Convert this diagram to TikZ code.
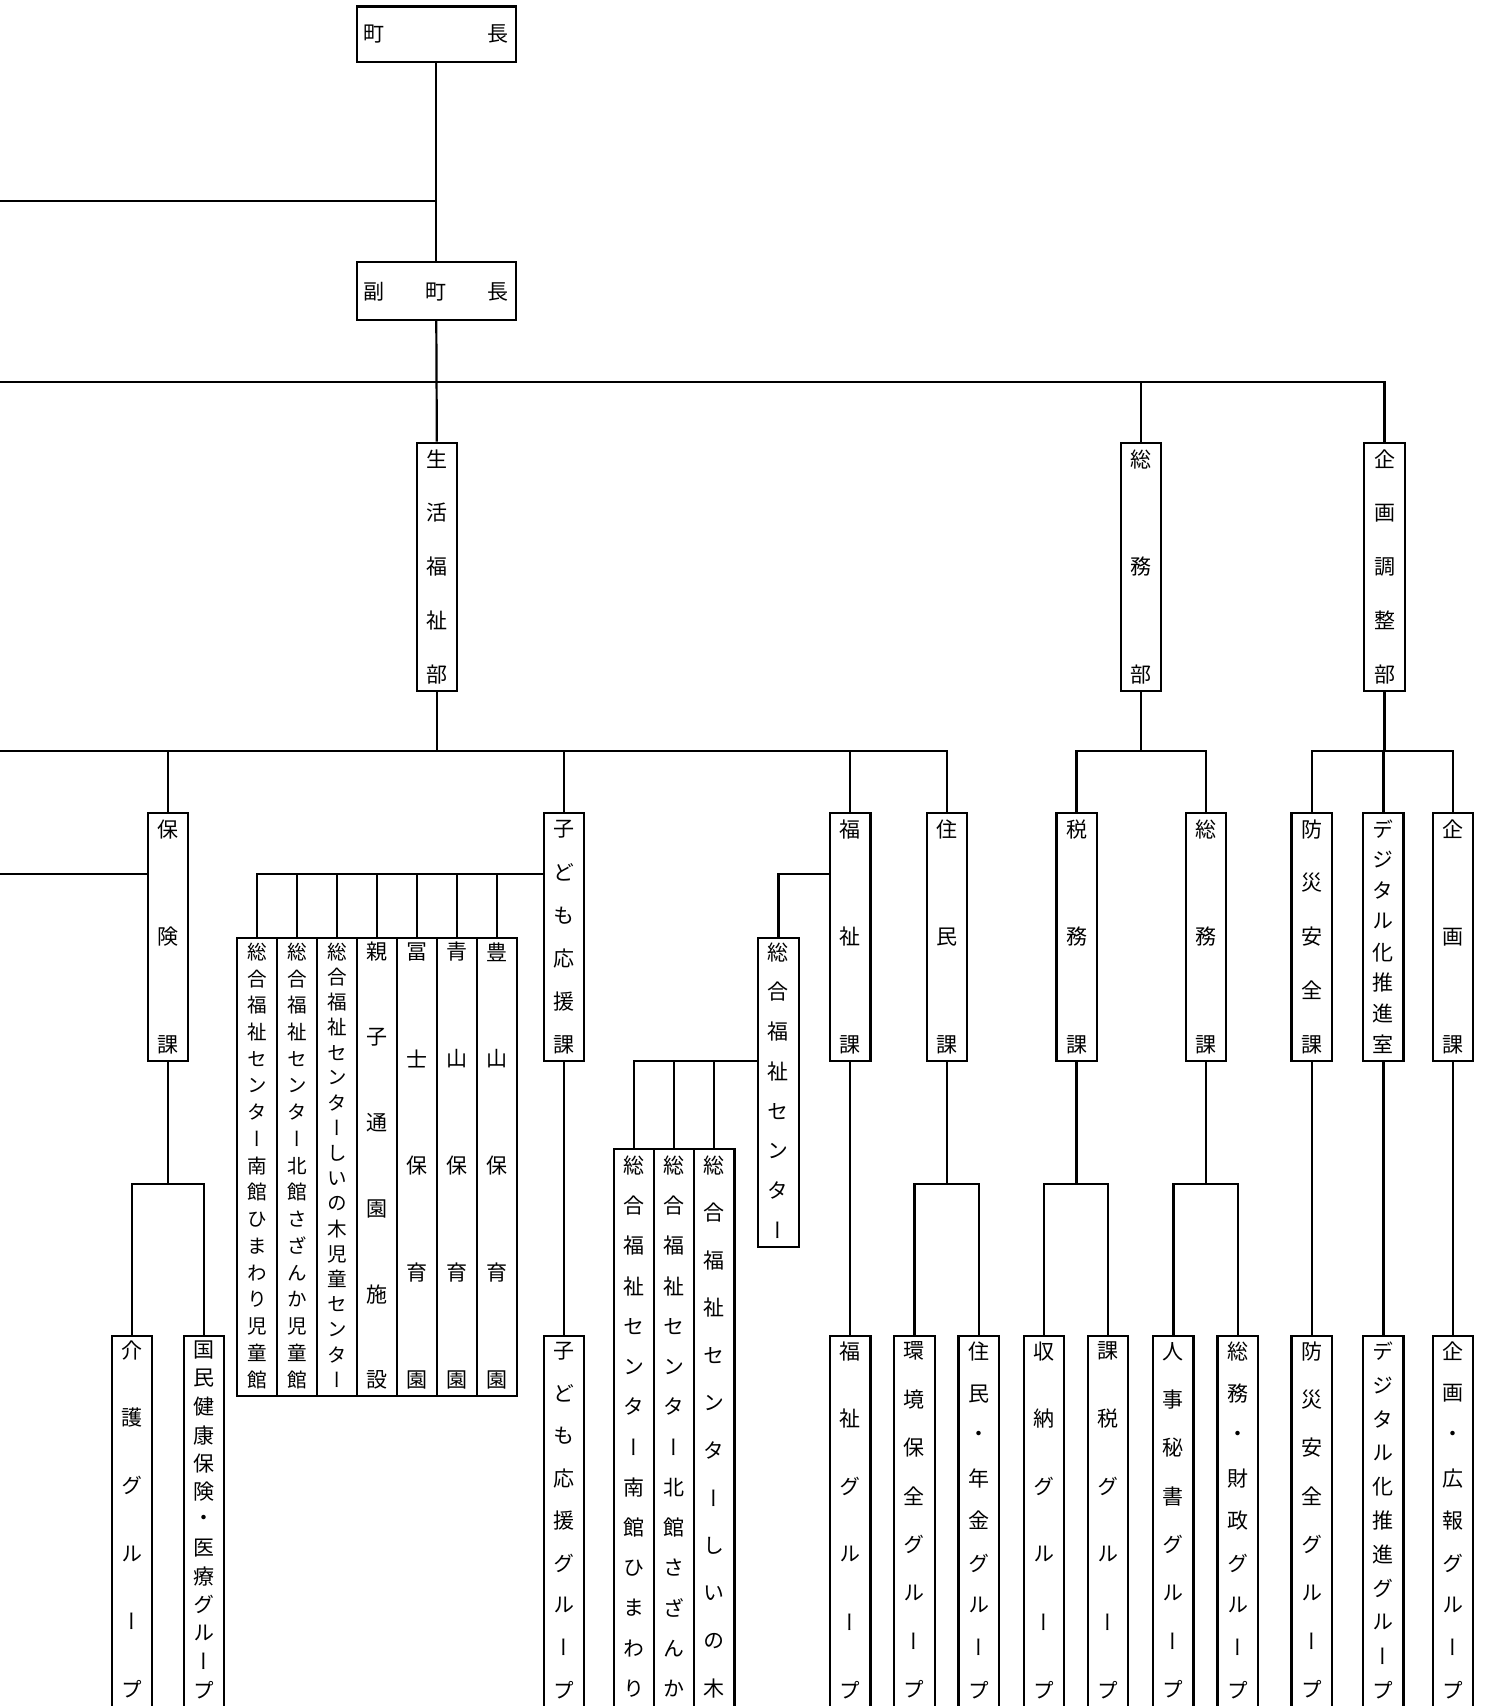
\documentclass[tikz,border=0pt]{standalone}
\usepackage{fontspec}
\usetikzlibrary{fit}
\newfontfamily\jp[RawFeature=+vert]{Noto Sans CJK JP}
\tikzset{
  bx/.style={draw, line width=1.1pt, inner sep=0pt},
  ch/.style={inner sep=0pt, font=\jp\fontsize{10.5}{10.5}\selectfont},
  chs/.style={inner sep=0pt, font=\jp\fontsize{9.8}{9.8}\selectfont},
  ln/.style={line width=1.1pt},
}
\newcommand\vtext[4]{\foreach \c [count=\i from 0] in {#4} {\node[ch] at (#1,{#2+\i*#3}) {\c};}}
\newcommand\vtexts[4]{\foreach \c [count=\i from 0] in {#4} {\node[chs] at (#1,{#2+\i*#3}) {\c};}}
\begin{document}
\begin{tikzpicture}[x=0.54386pt,y=-0.54386pt]
\useasboundingbox (0,0) rectangle (1368,1568);
\clip (0,0) rectangle (1368,1568);
% top
\node[bx, fit={(328,6) (474,57)}] (mayor) {};
\node[ch] at (344,31) {町}; \node[ch] at (458,31) {長};
\node[bx, fit={(328,241) (474,294)}] (vice) {};
\node[ch] at (344,268) {副}; \node[ch] at (401,268) {町}; \node[ch] at (458,268) {長};
% departments
\node[bx, fit={(383,407) (420,635)}] (seikatsu) {}; \vtext{401.5}{422}{49.5}{生,活,福,祉,部}
\node[bx, fit={(1030,407) (1067,635)}] (soumu) {}; \vtext{1048.5}{422}{99}{総,務,部}
\node[bx, fit={(1254,407) (1291,635)}] (kikaku) {}; \vtext{1272.5}{422}{49.5}{企,画,調,整,部}
% sections
\node[bx, fit={(136,747) (173,975)}] (hoken) {}; \vtext{154.5}{762}{99}{保,険,課}
\node[bx, fit={(500,747) (537,975)}] (kodomo) {}; \vtext{518.5}{762}{39.6}{子,ど,も,応,援,課}
\node[bx, fit={(763,747) (800,975)}] (fukushi) {}; \vtext{781.5}{762}{99}{福,祉,課}
\node[bx, fit={(852,747) (889,975)}] (jumin) {}; \vtext{870.5}{762}{99}{住,民,課}
\node[bx, fit={(971,747) (1008,975)}] (zeimu) {}; \vtext{989.5}{762}{99}{税,務,課}
\node[bx, fit={(1090,747) (1127,975)}] (soumuka) {}; \vtext{1108.5}{762}{99}{総,務,課}
\node[bx, fit={(1187,747) (1224,975)}] (bousai) {}; \vtext{1205.5}{762}{49.5}{防,災,安,全,課}
\node[bx, fit={(1253,747) (1290,975)}] (digital) {}; \vtext{1271.5}{762}{28.29}{デ,ジ,タ,ル,化,推,進,室}
\node[bx, fit={(1317,747) (1354,975)}] (kikakuka) {}; \vtext{1335.5}{762}{99}{企,画,課}
% facilities under kodomo
\node[bx, fit={(218,862) (254.7,1283)}] (f1) {}; \vtexts{236.4}{875}{24.56}{総,合,福,祉,セ,ン,タ,ー,南,館,ひ,ま,わ,り,児,童,館}
\node[bx, fit={(254.7,862) (291.4,1283)}] (f2) {}; \vtexts{273.1}{875}{24.56}{総,合,福,祉,セ,ン,タ,ー,北,館,さ,ざ,ん,か,児,童,館}
\node[bx, fit={(291.4,862) (328.1,1283)}] (f3) {}; \vtexts{309.8}{875}{23.12}{総,合,福,祉,セ,ン,タ,ー,し,い,の,木,児,童,セ,ン,タ,ー}
\node[bx, fit={(328.1,862) (364.9,1283)}] (f4) {}; \vtext{346.5}{875}{78.6}{親,子,通,園,施,設}
\node[bx, fit={(364.9,862) (401.6,1283)}] (f5) {}; \vtext{383.2}{875}{98.25}{冨,士,保,育,園}
\node[bx, fit={(401.6,862) (438.3,1283)}] (f6) {}; \vtext{419.9}{875}{98.25}{青,山,保,育,園}
\node[bx, fit={(438.3,862) (475,1283)}] (f7) {}; \vtext{456.6}{875}{98.25}{豊,山,保,育,園}
% sogo fukushi center
\node[bx, fit={(697,862) (734,1146)}] (sogo) {}; \vtext{715.5}{875}{36.57}{総,合,福,祉,セ,ン,タ,ー}
\node[bx, fit={(564,1056) (601,1600)}] (s1) {}; \vtext{582.5}{1071}{37}{総,合,福,祉,セ,ン,タ,ー,南,館,ひ,ま,わ,り}
\node[bx, fit={(601,1056) (638,1600)}] (s2) {}; \vtext{619.5}{1071}{37}{総,合,福,祉,セ,ン,タ,ー,北,館,さ,ざ,ん,か}
\node[bx, fit={(638,1056) (675,1600)}] (s3) {}; \vtext{656.5}{1071}{43.7}{総,合,福,祉,セ,ン,タ,ー,し,い,の,木}
% groups
\node[bx, fit={(103,1228) (140,1600)}] (kaigo) {}; \vtext{121.5}{1241}{62.3}{介,護,グ,ル,ー,プ}
\node[bx, fit={(169,1228) (206,1600)}] (kokumin) {}; \vtext{187.5}{1241}{26}{国,民,健,康,保,険,・,医,療,グ,ル,ー,プ}
\node[bx, fit={(500,1228) (537,1600)}] (kodomoG) {}; \vtext{518.5}{1242}{38.9}{子,ど,も,応,援,グ,ル,ー,プ}
\node[bx, fit={(763,1228) (800,1600)}] (fukushiG) {}; \vtext{781.5}{1242}{62.2}{福,祉,グ,ル,ー,プ}
\node[bx, fit={(822,1228) (859,1600)}] (kankyo) {}; \vtext{840.5}{1242}{44.4}{環,境,保,全,グ,ル,ー,プ}
\node[bx, fit={(881,1228) (918,1600)}] (juminG) {}; \vtext{899.5}{1242}{38.9}{住,民,・,年,金,グ,ル,ー,プ}
\node[bx, fit={(941,1228) (978,1600)}] (shuno) {}; \vtext{959.5}{1242}{62.2}{収,納,グ,ル,ー,プ}
\node[bx, fit={(1000,1228) (1037,1600)}] (kazei) {}; \vtext{1018.5}{1242}{62.2}{課,税,グ,ル,ー,プ}
\node[bx, fit={(1060,1228) (1097,1600)}] (jinji) {}; \vtext{1078.5}{1242}{44.4}{人,事,秘,書,グ,ル,ー,プ}
\node[bx, fit={(1119,1228) (1156,1600)}] (soumuG) {}; \vtext{1137.5}{1242}{38.9}{総,務,・,財,政,グ,ル,ー,プ}
\node[bx, fit={(1187,1228) (1224,1600)}] (bousaiG) {}; \vtext{1205.5}{1242}{44.4}{防,災,安,全,グ,ル,ー,プ}
\node[bx, fit={(1253,1228) (1290,1600)}] (digitalG) {}; \vtext{1271.5}{1242}{31.1}{デ,ジ,タ,ル,化,推,進,グ,ル,ー,プ}
\node[bx, fit={(1317,1228) (1354,1600)}] (kikakuG) {}; \vtext{1335.5}{1242}{38.9}{企,画,・,広,報,グ,ル,ー,プ}
% level coordinates
\coordinate (Y185) at (0,185);
\coordinate (Y351) at (0,351);
\coordinate (Y690) at (0,690);
\coordinate (Y803) at (0,803);
\coordinate (Y975) at (0,975);
\coordinate (Y1088) at (0,1088);
% connectors
\draw[ln] (mayor.south) -- (vice.north);
\draw[ln] (Y185) -- (Y185 -| mayor.south);
\draw[ln] (vice.south) -- (seikatsu.north);
\draw[ln] (Y351) -| (kikaku.north);
\draw[ln] (soumu.north) -- (soumu.north |- Y351);
\draw[ln] (Y690) -| (jumin.north);
\draw[ln] (seikatsu.south) -- (seikatsu.south |- Y690);
\draw[ln] (hoken.north) -- (hoken.north |- Y690);
\draw[ln] (kodomo.north) -- (kodomo.north |- Y690);
\draw[ln] (fukushi.north) -- (fukushi.north |- Y690);
\draw[ln] (Y803) -- (Y803 -| hoken.west);
\draw[ln] (f1.north) |- (Y803 -| kodomo.west);
\foreach \f in {f2,f3,f4,f5,f6,f7} {\draw[ln] (\f.north) -- (\f.north |- Y803);}
\draw[ln] (hoken.south) -- (hoken.south |- Y1088);
\draw[ln] (kaigo.north) |- (kokumin.north |- Y1088) -- (kokumin.north);
\draw[ln] (kodomo.south) -- (kodomoG.north);
\draw[ln] (Y803 -| fukushi.west) -| (sogo.north);
\draw[ln] (Y975 -| sogo.west) -| (s1.north);
\draw[ln] (s2.north) -- (s2.north |- Y975);
\draw[ln] (s3.north) -- (s3.north |- Y975);
\draw[ln] (fukushi.south) -- (fukushiG.north);
\draw[ln] (jumin.south) -- (jumin.south |- Y1088);
\draw[ln] (kankyo.north) |- (juminG.north |- Y1088) -- (juminG.north);
\draw[ln] (soumu.south) -- (soumu.south |- Y690);
\draw[ln] (zeimu.north) |- (soumuka.north |- Y690) -- (soumuka.north);
\draw[ln] (zeimu.south) -- (zeimu.south |- Y1088);
\draw[ln] (shuno.north) |- (kazei.north |- Y1088) -- (kazei.north);
\draw[ln] (soumuka.south) -- (soumuka.south |- Y1088);
\draw[ln] (jinji.north) |- (soumuG.north |- Y1088) -- (soumuG.north);
\draw[ln] (kikaku.south) -- (kikaku.south |- Y690);
\draw[ln] (bousai.north) |- (kikakuka.north |- Y690) -- (kikakuka.north);
\draw[ln] (digital.north) -- (digital.north |- Y690);
\draw[ln] (bousai.south) -- (bousaiG.north);
\draw[ln] (digital.south) -- (digitalG.north);
\draw[ln] (kikakuka.south) -- (kikakuG.north);
\end{tikzpicture}
\end{document}
